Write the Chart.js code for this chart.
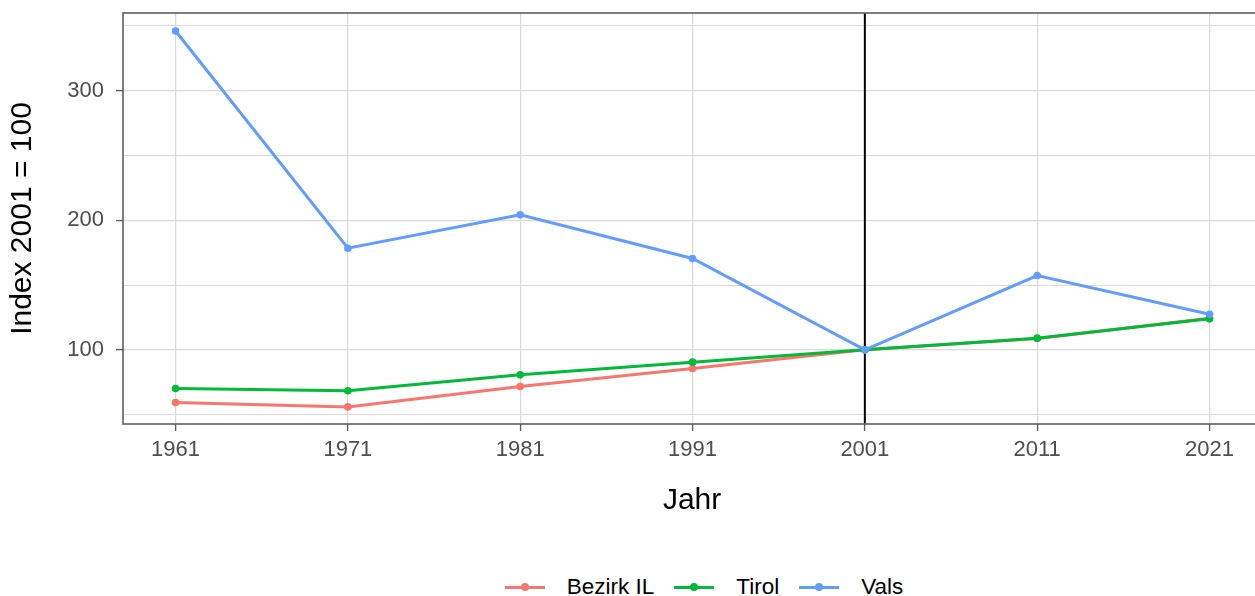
<!DOCTYPE html>
<html lang="de">
<head>
<meta charset="utf-8">
<title>Index 2001 = 100</title>
<script src="https://cdn.jsdelivr.net/npm/chart.js@4.4.1/dist/chart.umd.min.js"></script>
<style>
  html, body { margin: 0; padding: 0; background: #fff; overflow: hidden; }
  #wrap { position: relative; width: 1255px; height: 596px; overflow: hidden; }
  #chart { position: absolute; left: 0; top: 0; }
  #legend {
    position: absolute; top: 572px; left: 0; width: 1408px;
    display: flex; justify-content: center; align-items: center;
    font-family: "Liberation Sans", Arial, sans-serif; font-size: 22.5px; color: #000;
  }
  .item { display: flex; align-items: center; margin-right: 20px; }
  .item:last-child { margin-right: 0; }
  .sym { position: relative; width: 40px; height: 30px; margin-right: 22px; }
  .sym .ln { position: absolute; left: 0; right: 0; top: 13.5px; height: 3px; }
  .sym .dot { position: absolute; left: 16px; top: 11px; width: 8px; height: 8px; border-radius: 50%; }
</style>
</head>
<body>
<div id="wrap">
  <canvas id="chart" width="1265" height="540"></canvas>
  <div id="legend"></div>
</div>
<script>
// Daten
const years = [1961, 1971, 1981, 1991, 2001, 2011, 2021];
const bezirkIL = [59.3, 56.0, 71.7, 85.6, 100, 108.8, 124.4];
const tirol = [70.2, 68.4, 80.7, 90.5, 100, 109.0, 123.9];
const vals = [345.9, 178.4, 204.2, 170.5, 100, 157.3, 127.5];

const yTicks = [50, 100, 150, 200, 250, 300, 350];
const yLabeled = [100, 200, 300];
const baseYear = 2001;

const seriesNames = ['Bezirk IL', 'Tirol', 'Vals'];
const seriesColors = ['#F8766D', '#00BA38', '#619CFF'];

const FONT = '"Liberation Sans", Arial, sans-serif';

function toPoints(values) {
  return values.map((v, i) => ({ x: years[i], y: v }));
}

// Rahmen + vertikale Linie bei 2001
const framePlugin = {
  id: 'frame',
  beforeDatasetsDraw(chart) {
    const { ctx, chartArea, scales } = chart;
    const x = scales.x.getPixelForValue(baseYear);
    ctx.save();
    ctx.strokeStyle = '#000';
    ctx.lineWidth = 2;
    ctx.beginPath();
    ctx.moveTo(x, chartArea.top);
    ctx.lineTo(x, chartArea.bottom);
    ctx.stroke();
    ctx.restore();
  },
  afterDraw(chart) {
    const { ctx, chartArea } = chart;
    ctx.save();
    ctx.strokeStyle = '#5f5f5f';
    ctx.lineWidth = 1.6;
    ctx.strokeRect(chartArea.left, chartArea.top, chartArea.right - chartArea.left, chartArea.bottom - chartArea.top);
    ctx.restore();
  }
};

const datasets = seriesNames.map((name, i) => ({
  label: name,
  data: toPoints([bezirkIL, tirol, vals][i]),
  borderColor: seriesColors[i],
  backgroundColor: seriesColors[i],
  borderWidth: 3,
  pointRadius: 3.8,
  pointBorderWidth: 0,
  pointHoverRadius: 3.8,
  tension: 0,
  order: 3 - i
}));

const chart = new Chart(document.getElementById('chart'), {
  type: 'line',
  data: { datasets },
  options: {
    responsive: false,
    animation: false,
    devicePixelRatio: 1,
    layout: { padding: { top: 13, left: 0, right: 0, bottom: 0 } },
    plugins: {
      legend: { display: false },
      tooltip: { enabled: false }
    },
    scales: {
      x: {
        type: 'linear',
        min: 1957.95,
        max: 2024,
        afterBuildTicks: (scale) => { scale.ticks = years.map(v => ({ value: v })); },
        afterFit: (scale) => {
          scale.height = 116;
          scale.paddingLeft = 0;
          scale.paddingRight = 0;
        },
        border: { display: false },
        grid: {
          color: '#dadada',
          lineWidth: 1.2,
          drawTicks: true,
          tickLength: 7,
          tickColor: '#5f5f5f',
          tickWidth: 1.4
        },
        ticks: {
          padding: 6,
          color: '#4d4d4d',
          font: { family: FONT, size: 22 },
          callback: (v) => String(v),
          maxRotation: 0
        },
        title: {
          display: true,
          text: 'Jahr',
          color: '#000',
          font: { family: FONT, size: 30 },
          padding: { top: 0, bottom: 21 }
        }
      },
      y: {
        type: 'linear',
        min: 42.8,
        max: 359.8,
        afterBuildTicks: (scale) => { scale.ticks = yTicks.map(v => ({ value: v })); },
        afterFit: (scale) => {
          scale.width = 123;
          scale.paddingTop = 0;
          scale.paddingBottom = 0;
        },
        border: { display: false },
        grid: {
          color: '#dadada',
          lineWidth: (c) => yLabeled.includes(c.tick.value) ? 1.2 : 1,
          drawTicks: true,
          tickLength: 7,
          tickColor: (c) => yLabeled.includes(c.tick.value) ? '#5f5f5f' : 'rgba(0,0,0,0)',
          tickWidth: 1.4
        },
        ticks: {
          padding: 12,
          color: '#4d4d4d',
          font: { family: FONT, size: 22 },
          callback: (v) => yLabeled.includes(v) ? String(v) : ''
        },
        title: {
          display: true,
          text: 'Index 2001 = 100',
          color: '#000',
          font: { family: FONT, size: 30 },
          padding: { top: 5, bottom: 0 }
        }
      }
    }
  },
  plugins: [framePlugin]
});

// Legende unten
const legendDiv = document.getElementById('legend');
legendDiv.innerHTML = chart.data.datasets.map(ds => `
  <div class="item">
    <div class="sym">
      <div class="ln" style="background:${ds.borderColor}"></div>
      <div class="dot" style="background:${ds.borderColor}"></div>
    </div>
    <span>${ds.label}</span>
  </div>
`).join('');
</script>
</body>
</html>
